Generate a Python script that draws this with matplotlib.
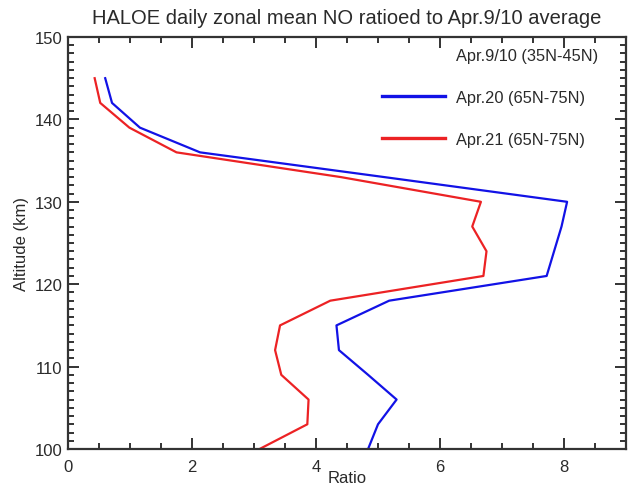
import matplotlib
matplotlib.use("Agg")
import matplotlib.pyplot as plt
from matplotlib.lines import Line2D
from matplotlib.ticker import MultipleLocator

plt.rcParams['font.family'] = ['Liberation Sans', 'DejaVu Sans']

# Altitude grid (km) and NO ratios relative to the Apr.9/10 mean
altitude = [145, 142, 139, 136, 133, 130, 127, 124, 121, 118, 115, 112, 109, 106, 103, 100]
ratio_apr20 = [0.60, 0.71, 1.16, 2.13, 5.10, 8.05, 7.96, 7.84, 7.72, 5.18, 4.33, 4.37, 4.84, 5.30, 5.00, 4.84]
ratio_apr21 = [0.43, 0.52, 0.99, 1.75, 4.40, 6.66, 6.52, 6.75, 6.70, 4.23, 3.42, 3.34, 3.44, 3.88, 3.86, 3.09]

labels = ["Apr.9/10 (35N-45N)", "Apr.20 (65N-75N)", "Apr.21 (65N-75N)"]
title = "HALOE daily zonal mean NO ratioed to Apr.9/10 average"

fig = plt.figure(figsize=(6.33, 4.89), dpi=100)
ax = fig.add_axes([68 / 633, 39 / 489, 558 / 633, 412 / 489])

blue = "#1212e6"
red = "#ec2224"
ax.plot(ratio_apr20, altitude, color=blue, lw=1.6)
ax.plot(ratio_apr21, altitude, color=red, lw=1.6)

ax.set_xlim(0, 9)
ax.set_ylim(100, 150)
ax.xaxis.set_major_locator(MultipleLocator(2))
ax.xaxis.set_minor_locator(MultipleLocator(0.5))
ax.yaxis.set_major_locator(MultipleLocator(10))
ax.yaxis.set_minor_locator(MultipleLocator(1))

spine_col = "#333333"
txt_col = "#2a2a2a"
for s in ax.spines.values():
    s.set_linewidth(1.6)
    s.set_color(spine_col)
ax.tick_params(which="both", direction="in", top=True, right=True,
               colors=spine_col, labelcolor=txt_col, labelsize=12, width=1.4)
ax.tick_params(which="major", length=8)
ax.tick_params(which="minor", length=4)
ax.tick_params(axis="x", which="major", pad=7)
ax.tick_params(axis="y", which="major", pad=4)

ax.set_xlabel("Ratio", fontsize=12, labelpad=-3, color=txt_col)
ax.set_ylabel("Altitude (km)", fontsize=12, labelpad=4, color=txt_col)
ax.set_title(title, fontsize=14.5, pad=10, color=txt_col)

handles = [Line2D([], [], color="none"),
           Line2D([], [], color=blue, lw=2.4),
           Line2D([], [], color=red, lw=2.4)]
ax.legend(handles, labels, loc="upper left", bbox_to_anchor=(0.562, 0.973),
          frameon=False, fontsize=11.8, handlelength=3.85, handletextpad=0.7,
          labelspacing=1.63, borderpad=0, borderaxespad=0, labelcolor=txt_col)

fig.savefig("out.png", dpi=100)
